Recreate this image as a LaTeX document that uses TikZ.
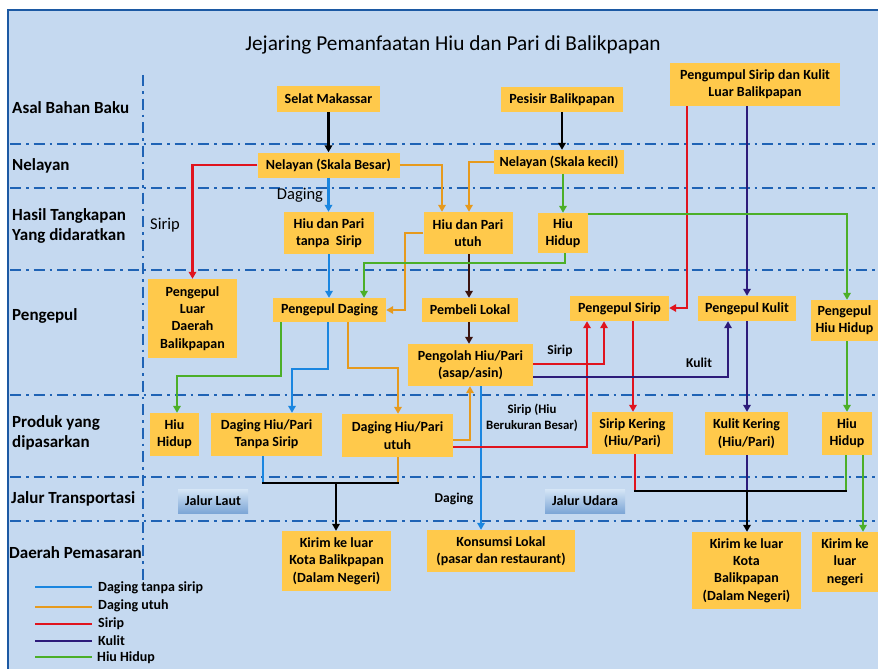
\documentclass[tikz,border=0pt]{standalone}
\usepackage{fontspec}
\setmainfont{Carlito}
\usetikzlibrary{arrows.meta,calc}
\definecolor{panel}{HTML}{C5D9F0}
\definecolor{boxc}{HTML}{FFC94B}
\definecolor{dashc}{HTML}{1F63B5}
\definecolor{cblue}{HTML}{1A86E0}
\definecolor{corange}{HTML}{E69A1E}
\definecolor{cred}{HTML}{E0141E}
\definecolor{cpurple}{HTML}{2D1B7A}
\definecolor{cgreen}{HTML}{4CAF28}
\definecolor{cbrown}{HTML}{3B1410}
\definecolor{jtop}{HTML}{D6E6F6}
\definecolor{jbot}{HTML}{7DA6D6}
\tikzset{
  box/.style={fill=boxc, inner sep=1pt, align=center, text=black,
    font=\bfseries\fontsize{14}{17.3}\selectfont},
  jbox/.style={top color=jtop, bottom color=jbot, inner sep=1pt, align=center,
    font=\bfseries\fontsize{14}{16}\selectfont, minimum width=72pt, minimum height=24pt},
  rowlab/.style={anchor=west, align=left, inner sep=0pt,
    font=\bfseries\fontsize{17}{20}\selectfont},
  free/.style={inner sep=0pt, align=center, font=\fontsize{16.5}{18}\selectfont},
  freeb/.style={inner sep=0pt, align=center, font=\bfseries\fontsize{13.5}{16}\selectfont},
  sep/.style={dashc, line width=2pt, dash pattern=on 11pt off 5pt on 2.5pt off 5pt},
  ln/.style={line width=2.6pt},
  ar/.style={line width=2.6pt, -{Triangle[length=7pt,width=7.5pt]}},
  leg/.style={anchor=west, inner sep=0pt, font=\bfseries\fontsize{14}{15}\selectfont},
}
\begin{document}
\begin{tikzpicture}[x=1pt,y=-1pt]
\useasboundingbox (0,0) rectangle (878,669);
\fill[white] (0,0) rectangle (878,669);
\fill[panel] (8,10) rectangle (878,669);
\draw[dashc!90!black, line width=2pt] (8,669) -- (8,10) -- (878,10);

% title
\node[inner sep=0pt, font=\fontsize{21.3}{23}\selectfont] (title) at (453,45) {Jejaring Pemanfaatan Hiu dan Pari di Balikpapan};

% separators
\foreach \yy in {144,188,270,395,477,521} \draw[sep] (10,\yy) -- (878,\yy);
\draw[sep] (143,75) -- (143,580);

% row labels
\node[rowlab] (r1) at (12,108) {Asal Bahan Baku};
\node[rowlab] (r2) at (12,166) {Nelayan};
\node[rowlab] (r3) at (12,226) {Hasil Tangkapan\\Yang didaratkan};
\node[rowlab] (r4) at (12,316) {Pengepul};
\node[rowlab] (r5) at (12,433) {Produk yang\\dipasarkan};
\node[rowlab] (r6) at (11,499) {Jalur Transportasi};
\node[rowlab] (r7) at (9,553) {Daerah Pemasaran};

% boxes
\node[box, minimum width=103pt, minimum height=26pt] (sm) at (328.5,99) {Selat Makassar};
\node[box, minimum width=122pt, minimum height=25pt] (pb) at (562,99.5) {Pesisir Balikpapan};
\node[box, minimum width=170pt, minimum height=43pt] (pu) at (755,84.5) {Pengumpul Sirip dan Kulit\\Luar Balikpapan};
\node[box, minimum width=142pt, minimum height=25pt] (nb) at (328.5,165) {Nelayan (Skala Besar)};
\node[box, minimum width=130pt, minimum height=24pt] (nk) at (559,162) {Nelayan (Skala kecil)};
\node[box, minimum width=90pt, minimum height=42pt] (ht) at (329,233) {Hiu dan Pari\\tanpa\ \ Sirip};
\node[box, minimum width=89pt, minimum height=42pt] (hu) at (468,233) {Hiu dan Pari\\utuh};
\node[box, minimum width=50pt, minimum height=40pt] (hh) at (563,233) {Hiu\\Hidup};
\node[box, minimum width=89pt, minimum height=79pt] (pl) at (192.5,318.5) {Pengepul\\Luar\\Daerah\\Balikpapan};
\node[box, minimum width=113pt, minimum height=24pt] (pd) at (329.5,310) {Pengepul Daging};
\node[box, minimum width=96pt, minimum height=24pt] (pbl) at (470,310) {Pembeli Lokal};
\node[box, minimum width=99pt, minimum height=25pt] (ps) at (619.5,308.5) {Pengepul Sirip};
\node[box, minimum width=98pt, minimum height=25pt] (pk) at (747,308.5) {Pengepul Kulit};
\node[box, minimum width=67pt, minimum height=41pt] (ph) at (844.5,320.5) {Pengepul\\Hiu Hidup};
\node[box, minimum width=125pt, minimum height=42pt] (po) at (470.5,365) {Pengolah Hiu/Pari\\(asap/asin)};
\node[box, minimum width=49pt, minimum height=43pt] (hh2) at (174.5,434.5) {Hiu\\Hidup};
\node[box, minimum width=111pt, minimum height=43pt] (dts) at (266.5,434.5) {Daging Hiu/Pari\\Tanpa Sirip};
\node[box, minimum width=111pt, minimum height=43pt] (du) at (397.5,435.5) {Daging Hiu/Pari\\utuh};
\node[box, minimum width=81pt, minimum height=42pt] (sk) at (632.5,433) {Sirip Kering\\(Hiu/Pari)};
\node[box, minimum width=83pt, minimum height=43pt] (kk) at (746.5,433.5) {Kulit Kering\\(Hiu/Pari)};
\node[box, minimum width=50pt, minimum height=43pt] (hh3) at (847,433.5) {Hiu\\Hidup};
\node[jbox, minimum width=70pt] (jl) at (213,501) {Jalur Laut};
\node[jbox, minimum width=80pt] (ju) at (585,501) {Jalur Udara};
\node[box, minimum width=109pt, minimum height=60pt] (k1) at (336.5,561) {Kirim ke luar\\Kota Balikpapan\\(Dalam Negeri)};
\node[box, minimum width=148pt, minimum height=42pt] (kl) at (501,551) {Konsumsi Lokal\\(pasar dan restaurant)};
\node[box, minimum width=109pt, minimum height=77pt] (k2) at (746.5,570.5) {Kirim ke luar\\Kota\\Balikpapan\\(Dalam Negeri)};
\node[box, minimum width=66pt, minimum height=60pt] (k3) at (845,562) {Kirim ke\\luar\\negeri};

% free labels
\node[free] (lDaging) at (300,195) {Daging};
\node[free] (lSirip) at (165,225) {Sirip};
\node[freeb] (lSirip2) at (560,351) {Sirip};
\node[freeb] (lKulit) at (699,363) {Kulit};
\node[freeb, font=\bfseries\fontsize{12.8}{16}\selectfont] (lSiripB) at (532,418) {Sirip (Hiu\\Berukuran Besar)};
\node[freeb] (lDaging2) at (454,499) {Daging};

% black source arrows
\draw[ar, black] (sm.south) -- (sm.south |- nb.north);
\draw[ar, black] (pb.south) -- (pb.south |- nk.north);
\draw[ar, cbrown] (469,0 |- hu.south) -- (469,0 |- pbl.north);
\draw[ar, cbrown] (469,0 |- pbl.south) -- (469,0 |- po.north);

% blue
\draw[ar, cblue] (nb.south) -- (nb.south |- ht.north);
\draw[ar, cblue] (ht.south) -- (ht.south |- pd.north);
\draw[ar, cblue] (328,0 |- pd.south) -- (328,369) -- (292,369) -- (292,0 |- dts.north);
\draw[ar, cblue] (481,0 |- po.south) -- (481,0 |- kl.north);
\draw[ln, cblue] (263,0 |- dts.south) -- (263,483);

% orange
\draw[ar, corange] (nb.east) -| (442,0 |- hu.north);
\draw[ar, corange] (nk.west) -| (469,0 |- hu.north);
\draw[ar, corange] (hu.west) -| (405,310) -- (pd.east);
\draw[ar, corange] (348,0 |- pd.south) -- (348,368) -- (398,368) -- (398,0 |- du.north);
\draw[ln, corange] (398,0 |- du.south) -- (398,483);
\draw[ar, corange] (du.east |- 0,440) -- (470,440) -- (470,0 |- po.south);

% red
\draw[ar, cred] (nb.west) -| (pl.north);
\draw[ar, cred] (687,0 |- pu.south) -- (687,308) -- (ps.east |- 0,308);
\draw[ar, cred] (po.east |- 0,364) -- (604,364) -- (604,0 |- ps.south);
\draw[ar, cred] (du.east |- 0,447) -- (587,447) -- (587,0 |- ps.south);
\draw[ar, cred] (633,0 |- ps.south) -- (633,0 |- sk.north);
\draw[ln, cred] (635,0 |- sk.south) -- (635,491);

% purple
\draw[ar, cpurple] (747,0 |- pu.south) -- (747,0 |- pk.north);
\draw[ar, cpurple] (po.east |- 0,377) -- (728,377) -- (728,0 |- pk.south);
\draw[ar, cpurple] (747,0 |- pk.south) -- (747,0 |- kk.north);
\draw[ln, cpurple] (747,0 |- kk.south) -- (747,491);

% green
\draw[ar, cgreen] (563,0 |- nk.south) -- (563,0 |- hh.north);
\draw[ar, cgreen] (hh.east |- 0,214) -- (847,214) -- (847,0 |- ph.north);
\draw[ar, cgreen] (565,0 |- hh.south) -- (565,263) -- (364,263) -- (364,0 |- pd.north);
\draw[ar, cgreen] (281,0 |- pd.south) -- (281,376) -- (177,376) -- (177,0 |- hh2.north);
\draw[ar, cgreen] (847,0 |- ph.south) -- (847,0 |- hh3.north);
\draw[ln, cgreen] (846,0 |- hh3.south) -- (846,491);
\draw[ar, cgreen] (863,0 |- hh3.south) -- (863,0 |- k3.north);

% black merges
\coordinate (m1) at (336,483);
\coordinate (m2) at (747,491);
\draw[ln, black] (262,483) -- (399,483);
\draw[ar, black] (m1) -- (m1 |- k1.north);
\draw[ln, black] (634,491) -- (847,491);
\draw[ar, black] (m2) -- (m2 |- k2.north);

% legend
\draw[ln, cblue] (35,587) -- (92,587);
\draw[ln, corange] (35,607) -- (92,607);
\draw[ln, cred] (35,624) -- (92,624);
\draw[ln, cpurple] (35,641) -- (92,641);
\draw[ln, cgreen] (35,657) -- (92,657);
\node[leg] (g1) at (98,588) {Daging tanpa sirip};
\node[leg] (g2) at (98,606) {Daging utuh};
\node[leg] (g3) at (98,624) {Sirip};
\node[leg] (g4) at (98,641) {Kulit};
\node[leg] (g5) at (97,658) {Hiu Hidup};
\end{tikzpicture}
\end{document}
